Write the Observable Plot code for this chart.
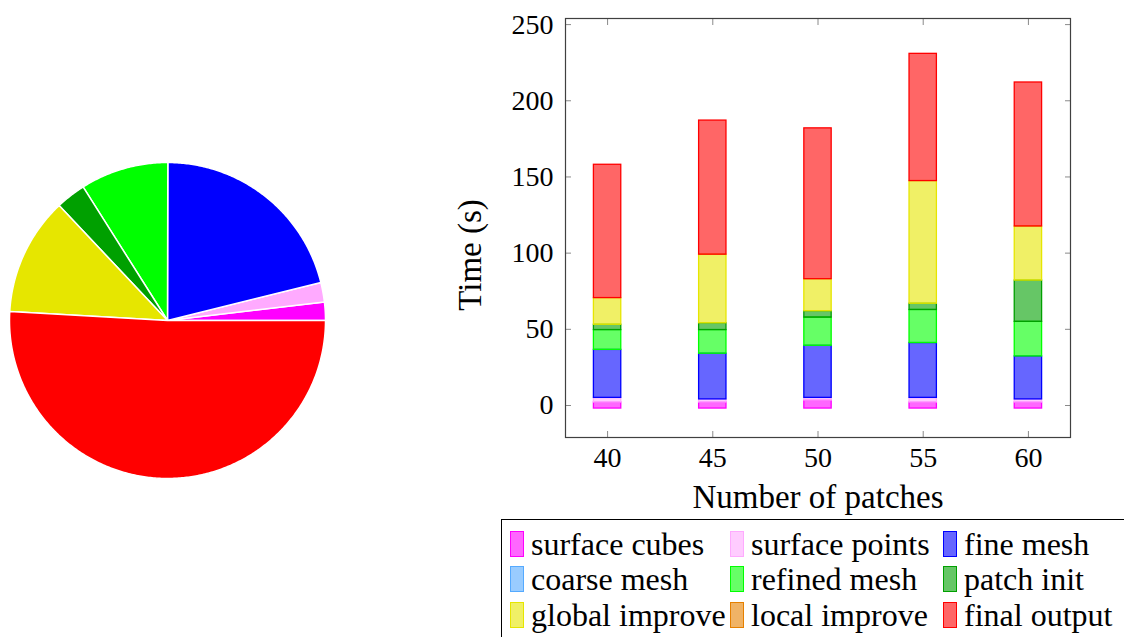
<!DOCTYPE html>
<html>
<head>
<meta charset="utf-8">
<script src="https://cdn.jsdelivr.net/npm/d3@7"></script>
<script src="https://cdn.jsdelivr.net/npm/@observablehq/plot@0.6"></script>
<style>
  html, body { margin: 0; padding: 0; background: white; }
  #root { position: relative; width: 1124px; height: 637px; overflow: hidden; background: white; font-family: "Liberation Serif", "Times New Roman", "DejaVu Serif", serif; }
  #pie { position: absolute; left: 0; top: 0; }
  #bars { position: absolute; left: 440px; top: 0; }
  #legend { position: absolute; left: 501px; top: 519px; width: 640px; height: 140px; border: 1px solid black; box-sizing: border-box; }
  .item { position: absolute; display: flex; align-items: center; font-size: 32px; color: black; white-space: nowrap; line-height: 1; }
  .sw { width: 14px; height: 26px; box-sizing: border-box; border: 1.5px solid; margin-right: 7px; }
</style>
</head>
<body>
<div id="root">
  <div id="pie"></div>
  <div id="bars"></div>
  <div id="legend"></div>
</div>
<script>
// ---- data ----
const patches = [40, 45, 50, 55, 60];
const seriesNames = ["surface cubes", "surface points", "fine mesh", "coarse mesh", "refined mesh", "patch init", "global improve", "local improve", "final output"];
const seriesColors = ["#ff00ff", "#ffaaff", "#0000ff", "#55aaff", "#00ff00", "#00a000", "#e6e600", "#e68000", "#ff0000"];

const surfaceCubes  = [4, 4, 5.3, 4, 4];
const surfacePoints = [3, 2, 1.7, 3, 2];
const fineMesh      = [31.5, 30, 34.2, 36, 28.2];
const coarseMesh    = [0, 0, 0, 0, 0];
const refinedMesh   = [13, 15.5, 18.5, 21.7, 22.7];
const patchInit     = [3.5, 4.5, 4.2, 4.1, 27.1];
const globalImprove = [17.5, 45, 21, 80.5, 35.5];
const localImprove  = [0, 0, 0, 0, 0];
const finalOutput   = [87.5, 88, 99, 83.5, 94.5];
const stackBase = -2;

const pieShares = [1.86, 2.0, 21.1, 0, 9.0, 3.06, 12.05, 0, 50.9];

const yTicks = [0, 50, 100, 150, 200, 250];
const xTicks = [40, 45, 50, 55, 60];

const FONT = '"Liberation Serif", "Times New Roman", "DejaVu Serif", serif';

// ---- stacked bars ----
const seriesValues = [surfaceCubes, surfacePoints, fineMesh, coarseMesh, refinedMesh, patchInit, globalImprove, localImprove, finalOutput];
const halfWidth = 0.65;
const barData = [];
patches.forEach((p, i) => {
  let acc = stackBase;
  seriesValues.forEach((vals, s) => {
    const v = vals[i];
    if (v > 0) barData.push({x1: p - halfWidth, x2: p + halfWidth, y1: acc, y2: acc + v, color: seriesColors[s], name: seriesNames[s]});
    acc += v;
  });
});

const tickStroke = "#8a8a8a";
const bars = Plot.plot({
  width: 684, height: 520,
  marginLeft: 125, marginRight: 54, marginTop: 18, marginBottom: 83,
  x: {domain: [38, 62]},
  y: {domain: [-21, 254]},
  color: {type: "identity"},
  style: {fontFamily: FONT, fontSize: "28px", color: "black", background: "white", overflow: "visible"},
  marks: [
    Plot.rect(barData, {x1: "x1", x2: "x2", y1: "y1", y2: "y2", fill: "color", fillOpacity: 0.6, stroke: "color", strokeWidth: 1.3}),
    Plot.axisY({ticks: yTicks, tickSize: 6, dx: 6, tickFormat: () => "", stroke: tickStroke, label: null}),
    Plot.axisY({anchor: "right", ticks: yTicks, tickSize: 6, dx: -6, tickFormat: () => "", stroke: tickStroke, label: null}),
    Plot.axisX({ticks: xTicks, tickSize: 6, dy: -6, tickFormat: () => "", stroke: tickStroke, label: null}),
    Plot.axisX({anchor: "top", ticks: xTicks, tickSize: 6, dy: 6, tickFormat: () => "", stroke: tickStroke, label: null}),
    Plot.axisY({ticks: yTicks, tickSize: 0, tickPadding: 12, label: null, fill: "black"}),
    Plot.axisX({ticks: xTicks, tickSize: 0, tickPadding: 10, label: null, fill: "black"}),
    Plot.frame({stroke: "#404040", strokeWidth: 1.2}),
    Plot.text(["Number of patches"], {text: d => d, frameAnchor: "bottom", lineAnchor: "middle", textAnchor: "middle", dy: 60, fontSize: 33, fill: "black"}),
    Plot.text(["Time (s)"], {text: d => d, frameAnchor: "left", textAnchor: "middle", lineAnchor: "middle", dx: -95, dy: 27, rotate: -90, fontSize: 33, fill: "black"})
  ]
});
document.getElementById("bars").appendChild(bars);

// ---- pie ----
const total = d3.sum(pieShares);
const pieData = [];
let start = 0;
pieShares.forEach((v, s) => {
  if (v <= 0) return;
  const a0 = start / total * 2 * Math.PI;
  const a1 = (start + v) / total * 2 * Math.PI;
  const n = Math.max(2, Math.ceil((a1 - a0) / 0.01));
  pieData.push({k: s, x: 0, y: 0, color: seriesColors[s]});
  for (let j = 0; j <= n; j++) {
    const a = a0 + (a1 - a0) * j / n;
    pieData.push({k: s, x: Math.cos(a), y: Math.sin(a), color: seriesColors[s]});
  }
  pieData.push({k: s, x: 0, y: 0, color: seriesColors[s]});
  start += v;
});

const pie = Plot.plot({
  width: 340, height: 637,
  marginLeft: 9, marginRight: 15, marginTop: 162, marginBottom: 159,
  x: {domain: [-1, 1], axis: null},
  y: {domain: [-1, 1], axis: null},
  color: {type: "identity"},
  style: {background: "transparent", overflow: "visible"},
  marks: [
    Plot.line(pieData, {x: "x", y: "y", z: "k", fill: "color", stroke: "white", strokeWidth: 1.5, strokeLinejoin: "round"})
  ]
});
document.getElementById("pie").appendChild(pie);

// ---- legend ----
const legend = document.getElementById("legend");
const colLeft = [8, 228, 441];
const rowTop = [531, 566, 602];
seriesNames.forEach((name, i) => {
  const c = d3.color(seriesColors[i]);
  const w = d3.color("white");
  const fill = d3.rgb(c.r * 0.6 + w.r * 0.4, c.g * 0.6 + w.g * 0.4, c.b * 0.6 + w.b * 0.4);
  const el = document.createElement("div");
  el.className = "item";
  el.style.left = colLeft[i % 3] + "px";
  el.style.top = (rowTop[Math.floor(i / 3)] - 519 - 4) + "px";
  el.innerHTML = `<div class="sw" style="background:${fill};border-color:${seriesColors[i]}"></div><span>${name}</span>`;
  legend.appendChild(el);
});
</script>
</body>
</html>
